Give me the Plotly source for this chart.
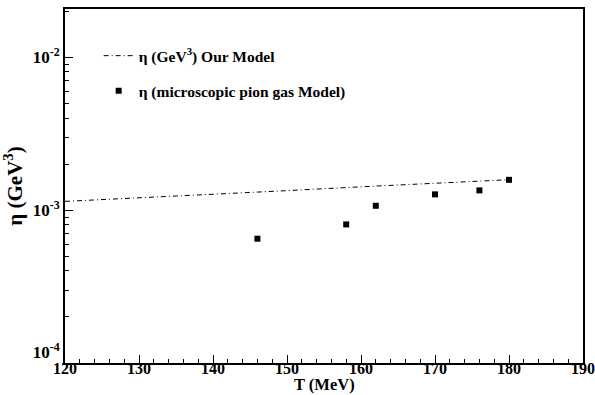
import plotly.graph_objects as go

# Shear viscosity vs temperature
T_model = [120, 130, 140, 150, 160, 170, 180]
eta_model = [1.14e-3, 1.20e-3, 1.27e-3, 1.34e-3, 1.42e-3, 1.50e-3, 1.58e-3]

T_pion = [146, 158, 162, 170, 176, 180]
eta_pion = [6.5e-4, 8.06e-4, 1.067e-3, 1.267e-3, 1.345e-3, 1.577e-3]

x_ticks = [120, 130, 140, 150, 160, 170, 180, 190]
y_ticks = [1e-4, 1e-3, 1e-2]
# the lowest label gets an empty second line so it sits above the corner
y_tick_text = ["10<sup>-4</sup><br>&nbsp;", "10<sup>-3</sup>", "10<sup>-2</sup>"]
y_minor = [m * 10.0 ** e for e in (-4, -3, -2) for m in range(2, 10)]

FONT = "Liberation Serif"


def bold(size):
    return dict(family=FONT, size=size, weight="bold", color="black")


fig = go.Figure()
fig.add_trace(go.Scatter(
    x=T_model, y=eta_model, mode="lines",
    name="η (GeV<sup>3</sup>) Our Model",
    line=dict(color="black", width=1, dash="5px,3px,1px,3px"),
    legendgroup="a",
))
fig.add_trace(go.Scatter(
    x=T_pion, y=eta_pion, mode="markers",
    name="η (microscopic pion gas Model)",
    marker=dict(symbol="square", size=6, color="black"),
    legendgroup="b",
))

fig.update_layout(
    width=595, height=395,
    margin=dict(l=65, r=12, t=9, b=32),
    paper_bgcolor="white", plot_bgcolor="white",
    font=bold(14),
    showlegend=True,
    legend=dict(
        x=0.065, y=0.915, xanchor="left", yanchor="top",
        bgcolor="rgba(0,0,0,0)", font=bold(15.5),
        tracegroupgap=12, itemwidth=30,
    ),
    xaxis=dict(
        range=[120, 190], tickvals=x_ticks, automargin=False,
        ticks="inside", ticklen=8, tickwidth=1, tickcolor="black",
        minor=dict(ticks="inside", ticklen=4, dtick=2, tickcolor="black"),
        showline=True, linecolor="black", linewidth=2, mirror=True,
        showgrid=False, zeroline=False,
        tickfont=bold(16), ticklabelstandoff=-10,
    ),
    yaxis=dict(
        type="log", range=[-4, -1.685], automargin=False,
        tickvals=y_ticks, ticktext=y_tick_text,
        ticks="inside", ticklen=8, tickwidth=1, tickcolor="black",
        minor=dict(ticks="inside", ticklen=4, tickvals=y_minor, tickcolor="black"),
        showline=True, linecolor="black", linewidth=2, mirror=True,
        showgrid=False, zeroline=False,
        tickfont=bold(17),
        title=dict(text="η (GeV<sup>3</sup>)", font=bold(21)),
    ),
    annotations=[dict(
        text="T (MeV)", font=bold(16.5), showarrow=False,
        xref="paper", yref="paper", x=0.5, y=-0.062,
        xanchor="center", yanchor="middle",
    )],
)

fig.write_html("out.html")
